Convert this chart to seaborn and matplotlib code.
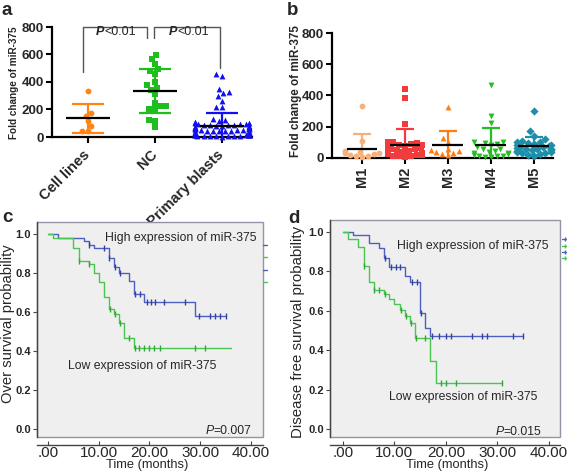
import numpy as np
import pandas as pd
import matplotlib
matplotlib.use("Agg")
import matplotlib.pyplot as plt
import seaborn as sns
from matplotlib.lines import Line2D
from matplotlib.patches import Rectangle

# ---------------- data: panel a ----------------
a_categories = ["Cell lines", "NC", "Primary blasts"]
a_cell_lines = [337, 176, 156, 117, 78, 44, 41]
a_nc = [598, 566, 530, 495, 480, 460, 400, 375, 355, 345, 310, 248, 228, 225,
        205, 200, 125, 115, 70]
a_primary = [455, 440, 350, 325, 320, 295, 260, 220, 215,
             132, 121, 117, 109, 104, 101, 97, 96, 93, 90, 88, 86, 84, 81, 79,
             77, 76, 73, 71, 69, 67, 66, 63, 61, 59, 58, 55, 53, 51, 49, 47, 46,
             44, 42, 40, 39, 37, 35, 33, 31, 30, 28, 26, 25, 23, 21, 19, 17, 15,
             13, 11, 9, 7, 5, 4, 3, 36, 29, 24, 18, 14, 10, 8, 6, 22, 27, 12, 16]
a_pvalue_text = ["<0.01", "<0.01"]
fold_yticks = [0, 200, 400, 600, 800]

# ---------------- data: panel b ----------------
b_categories = ["M1", "M2", "M3", "M4", "M5"]
b_m1 = [330, 110, 45, 40, 35, 30, 25, 20, 15, 10, 5]
b_m2 = [440, 385, 220, 105, 100, 95, 90, 85, 80, 75, 70, 65, 60, 55, 50, 45,
        40, 40, 35, 30, 30, 25, 20, 20, 15, 10, 10, 5]
b_m3 = [325, 125, 100, 60, 50, 45, 40, 35, 25, 20]
b_m4 = [465, 270, 225, 100, 90, 100, 95, 80, 70, 60, 55, 45, 40, 35, 30, 25,
        20, 15, 10, 5, 5, 10]
b_m5 = [300, 170, 140, 120, 110, 100, 100, 95, 90, 85, 80, 75, 70, 70, 65, 60,
        60, 55, 50, 50, 45, 40, 40, 35, 30, 25, 20, 15]

# ---------------- data: panel c (overall survival) ----------------
c_high_time = [0, 2, 7, 8, 9, 12, 13, 14, 16, 17, 19, 29, 35]
c_high_surv = [1.0, 0.981, 0.966, 0.944, 0.927, 0.879, 0.83, 0.80, 0.76, 0.69,
               0.653, 0.58, 0.58]
c_high_cens_time = [8.1, 11.1, 12.1, 13.2, 14.2, 17.2, 18.1, 19.5, 20.3, 21.1,
                    22.9, 27.0, 29.8, 32.0, 33.0, 34.0, 35.0]
c_high_cens_surv = [0.944, 0.927, 0.879, 0.83, 0.80, 0.69, 0.69, 0.653, 0.653,
                    0.653, 0.653, 0.653, 0.58, 0.58, 0.58, 0.58, 0.58]
c_low_time = [0, 1, 5, 6, 8, 9, 10, 11, 12, 13, 14, 15, 17, 36]
c_low_surv = [1.0, 0.981, 0.927, 0.863, 0.846, 0.80, 0.755, 0.675, 0.614, 0.59,
              0.542, 0.468, 0.414, 0.414]
c_low_cens_time = [6.1, 8.1, 12.2, 13.2, 14.2, 16.0, 17.1, 18.0, 19.0, 20.0,
                   20.9, 22.0, 29.0, 31.0]
c_low_cens_surv = [0.863, 0.846, 0.614, 0.59, 0.542, 0.468, 0.414, 0.414, 0.414,
                   0.414, 0.414, 0.414, 0.414, 0.414]
c_pvalue = "=0.007"

# ---------------- data: panel d (disease free survival) ----------------
d_high_time = [0, 2, 5, 7, 8, 9, 12, 13, 15, 16, 17, 35]
d_high_surv = [1.0, 0.985, 0.943, 0.92, 0.866, 0.824, 0.777, 0.745, 0.587,
               0.511, 0.474, 0.474]
d_high_cens_time = [8.2, 9.4, 10.3, 11.1, 13.5, 14.3, 15.1, 17.4, 18.6, 20.0,
                    21.0, 25.0, 27.0, 28.0, 33.0, 35.0]
d_high_cens_surv = [0.866, 0.824, 0.824, 0.824, 0.745, 0.745, 0.587, 0.474,
                    0.474, 0.474, 0.474, 0.474, 0.474, 0.474, 0.474, 0.474]
d_low_time = [0, 1, 3, 4, 5, 6, 8, 9, 10, 11, 12, 13, 14, 17, 18, 31]
d_low_surv = [1.0, 0.965, 0.925, 0.825, 0.745, 0.706, 0.684, 0.658, 0.635,
              0.604, 0.574, 0.54, 0.464, 0.347, 0.232, 0.232]
d_low_cens_time = [4.1, 6.1, 7.0, 8.2, 11.2, 12.2, 13.2, 14.1, 16.0, 19.0, 20.0,
                   22.0, 31.0]
d_low_cens_surv = [0.825, 0.706, 0.706, 0.684, 0.604, 0.574, 0.54, 0.464, 0.464,
                   0.232, 0.232, 0.232, 0.232]
d_pvalue = "=0.015"

km_xticks = [0, 10, 20, 30, 40]
km_xticklabels = [".00", "10.00", "20.00", "30.00", "40.00"]
km_yticks = [0.0, 0.2, 0.4, 0.6, 0.8, 1.0]
km_yticklabels = ["0.0", "0.2", "0.4", "0.6", "0.8", "1.0"]

# ---------------- style ----------------
sns.set_theme(style="ticks")
plt.rcParams["font.family"] = ["Liberation Sans", "DejaVu Sans"]

W, H = 567, 473
fig = plt.figure(figsize=(W / 100, H / 100), dpi=100)
fig.patch.set_facecolor("white")


def px_axes(x0, y0, x1, y1):
    return fig.add_axes([x0 / W, 1 - y1 / H, (x1 - x0) / W, (y1 - y0) / H])


def scatter_panel(ax, groups, cats, colors, markers, size, mean_hw, cap_hw):
    for i, (vals, col, mk) in enumerate(zip(groups, colors, markers)):
        sns.swarmplot(x=[cats[i]] * len(vals), y=vals, order=cats, color=col,
                      marker=mk, size=size, linewidth=0, ax=ax, clip_on=False,
                      zorder=3, warn_thresh=1.0)
        m = np.mean(vals)
        s = np.std(vals, ddof=1)
        ax.hlines(m, i - mean_hw, i + mean_hw, color="black", lw=1.6, zorder=5)
        ax.vlines(i, m - s, m + s, color=col, lw=1.6, zorder=4)
        ax.hlines([m - s, m + s], i - cap_hw, i + cap_hw, color=col, lw=1.6,
                  zorder=4)
    ax.set_ylim(0, 800)
    ax.set_yticks(fold_yticks)
    ax.set_yticklabels([str(v) for v in fold_yticks], fontsize=9.6,
                       fontweight="bold")
    for sp in ["top", "right"]:
        ax.spines[sp].set_visible(False)
    for sp in ["left", "bottom"]:
        ax.spines[sp].set_linewidth(1.6)
        ax.spines[sp].set_color("black")
    ax.tick_params(axis="both", length=4, width=1.5, color="black", pad=2)
    ax.set_xlabel("")
    ax.set_ylabel("")
    ax.set_facecolor("white")


# ---------------- panel a ----------------
ax_a = px_axes(52, 27, 252, 137)
scatter_panel(ax_a, [a_cell_lines, a_nc, a_primary], a_categories,
              ["#FF8417", "#1EBE1E", "#1010F0"], ["o", "s", "^"], 4.2, 0.33, 0.24)
ax_a.set_xlim(-0.537, 2.45)
ax_a.set_xticks(range(3))
ax_a.set_xticklabels(a_categories, rotation=45, ha="right", va="center",
                     rotation_mode="anchor", fontsize=10.5, fontweight="bold")
ax_a.tick_params(axis="x", pad=7)
# significance brackets
for (x0, x1, y0, y1), ptxt, xs in zip([(-0.08, 0.885, 475, 717), (0.985, 1.97, 717, 500)],
                                   a_pvalue_text, [0.24, 1.33]):
    ax_a.plot([x0, x0, x1, x1], [y0, 800, 800, y1], color="#555555", lw=1.0,
              clip_on=False)
    ax_a.text(xs, 765, "P", ha="right", va="center", fontsize=9,
              fontweight="bold", fontstyle="italic")
    ax_a.text(xs, 765, ptxt, ha="left", va="center", fontsize=9)
fig.text(14 / W, 1 - 83 / H, "Fold change of miR-375", rotation=90,
         ha="center", va="center", fontsize=7.2, fontweight="bold")

# ---------------- panel b ----------------
ax_b = px_axes(332, 33, 553, 158)
scatter_panel(ax_b, [b_m1, b_m2, b_m3, b_m4, b_m5], b_categories,
              ["#F7B07A", "#F03C3C", "#FF7C12", "#22BE22", "#1D8FAA"],
              ["o", "s", "^", "v", "D"], 4.2, 0.36, 0.21)
ax_b.set_xlim(-0.7, 4.45)
ax_b.set_xticks(range(5))
ax_b.set_xticklabels(b_categories, rotation=90, fontsize=10.5, fontweight="bold")
fig.text(296 / W, 1 - 91 / H, "Fold change of miR-375", rotation=90,
         ha="center", va="center", fontsize=8.4, fontweight="bold")

# ---------------- KM panels ----------------
BLUE = "#4F5FBF"
GREEN = "#4CC454"


def km_panel(ax, ht, hs, hct, hcs, lt, ls, lct, lcs, xlim, ylim):
    ax.set_facecolor("#EFEFEF")
    sns.lineplot(x=ht, y=hs, drawstyle="steps-post", estimator=None,
                 color=BLUE, lw=1.0, ax=ax)
    sns.lineplot(x=lt, y=ls, drawstyle="steps-post", estimator=None,
                 color=GREEN, lw=1.0, ax=ax)
    sns.scatterplot(x=hct, y=hcs, marker="|", s=22, color="#34449E",
                    linewidth=1.0, ax=ax, zorder=4)
    sns.scatterplot(x=lct, y=lcs, marker="|", s=22, color="#2FA838",
                    linewidth=1.0, ax=ax, zorder=4)
    ax.set_xlim(*xlim)
    ax.set_ylim(*ylim)
    ax.set_xticks(km_xticks)
    ax.set_xticklabels(km_xticklabels, fontsize=8.2, fontweight="bold")
    ax.set_yticks(km_yticks)
    ax.set_yticklabels(km_yticklabels, fontsize=8.0, fontweight="bold")
    ax.spines["top"].set_visible(False)
    ax.spines["right"].set_visible(False)
    ax.spines["bottom"].set_position(("outward", 6))
    ax.spines["bottom"].set_color("#444444")
    ax.spines["bottom"].set_linewidth(1.0)
    ax.spines["left"].set_color("#444444")
    ax.spines["left"].set_linewidth(1.0)
    ax.add_patch(Rectangle((0, 0), 1, 1, transform=ax.transAxes, fill=False,
                           edgecolor="#9494A8", lw=1.0, clip_on=False, zorder=1))
    ax.tick_params(axis="y", length=3, width=0.8, color="#444444", pad=1.5)
    ax.tick_params(axis="x", direction="in", length=3, width=0.8,
                   color="#444444", pad=0.5)
    ax.set_xlabel("")
    ax.set_ylabel("")
    ax.grid(False)


ax_c = px_axes(37, 222, 263, 437)
km_panel(ax_c, c_high_time, c_high_surv, c_high_cens_time, c_high_cens_surv,
         c_low_time, c_low_surv, c_low_cens_time, c_low_cens_surv,
         (-2.2, 42.4), (-0.041, 1.0615))
ax_c.text(26.2, 0.98, "High expression of miR-375", ha="center", va="center",
          fontsize=8.8)
ax_c.text(18.5, 0.323, "Low expression of miR-375", ha="center", va="center",
          fontsize=8.8)
ax_c.text(32.6, -0.008, c_pvalue, ha="left", va="center", fontsize=8.8)
ax_c.text(32.6, -0.008, "P", ha="right", va="center", fontsize=8.8,
          fontstyle="italic")
ax_c.legend(handles=[Line2D([], [], color=BLUE, lw=1),
                     Line2D([], [], color=GREEN, lw=1),
                     Line2D([], [], color=BLUE, lw=1),
                     Line2D([], [], color=GREEN, lw=1)],
            labels=[""] * 4, loc="upper left", bbox_to_anchor=(1.0, 0.907),
            frameon=False, handlelength=0.5, handletextpad=0, borderpad=0,
            borderaxespad=0, labelspacing=0.55, fontsize=6)
fig.text(8 / W, 1 - 324 / H, "Over survival probability", rotation=90,
         ha="center", va="center", fontsize=10.6)
fig.text(147 / W, 1 - 465 / H, "Time (months)", ha="center", va="center",
         fontsize=9.3)

ax_d = px_axes(330, 220, 560, 437)
km_panel(ax_d, d_high_time, d_high_surv, d_high_cens_time, d_high_cens_surv,
         d_low_time, d_low_surv, d_low_cens_time, d_low_cens_surv,
         (-2.53, 42.2), (-0.041, 1.061))
ax_d.text(25.3, 0.93, "High expression of miR-375", ha="center", va="center",
          fontsize=8.8)
ax_d.text(23.4, 0.162, "Low expression of miR-375", ha="center", va="center",
          fontsize=8.8)
ax_d.text(31.2, -0.018, d_pvalue, ha="left", va="center", fontsize=8.8)
ax_d.text(31.2, -0.018, "P", ha="right", va="center", fontsize=8.8,
          fontstyle="italic")
ax_d.legend(handles=[Line2D([], [], color=BLUE, lw=1, marker="|", ms=3),
                     Line2D([], [], color=GREEN, lw=1, marker="|", ms=3),
                     Line2D([], [], color=BLUE, lw=1, marker="|", ms=3),
                     Line2D([], [], color=GREEN, lw=1, marker="|", ms=3)],
            labels=[""] * 4, loc="upper left", bbox_to_anchor=(1.009, 0.921),
            frameon=False, handlelength=0.9, handletextpad=0, borderpad=0,
            borderaxespad=0, labelspacing=0.25, fontsize=4)
fig.text(298 / W, 1 - 332 / H, "Disease free survival probability",
         rotation=90, ha="center", va="center", fontsize=10.8)
fig.text(447 / W, 1 - 465 / H, "Time (months)", ha="center", va="center",
         fontsize=9.3)

# panel letters
for lx, ly, letter in [(2, 15, "a"), (287, 15, "b"), (2, 222, "c"), (288, 223, "d")]:
    fig.text(lx / W, 1 - ly / H, letter, ha="left", va="baseline",
             fontsize=13.5, fontweight="bold")

fig.savefig("out.png", dpi=100)
